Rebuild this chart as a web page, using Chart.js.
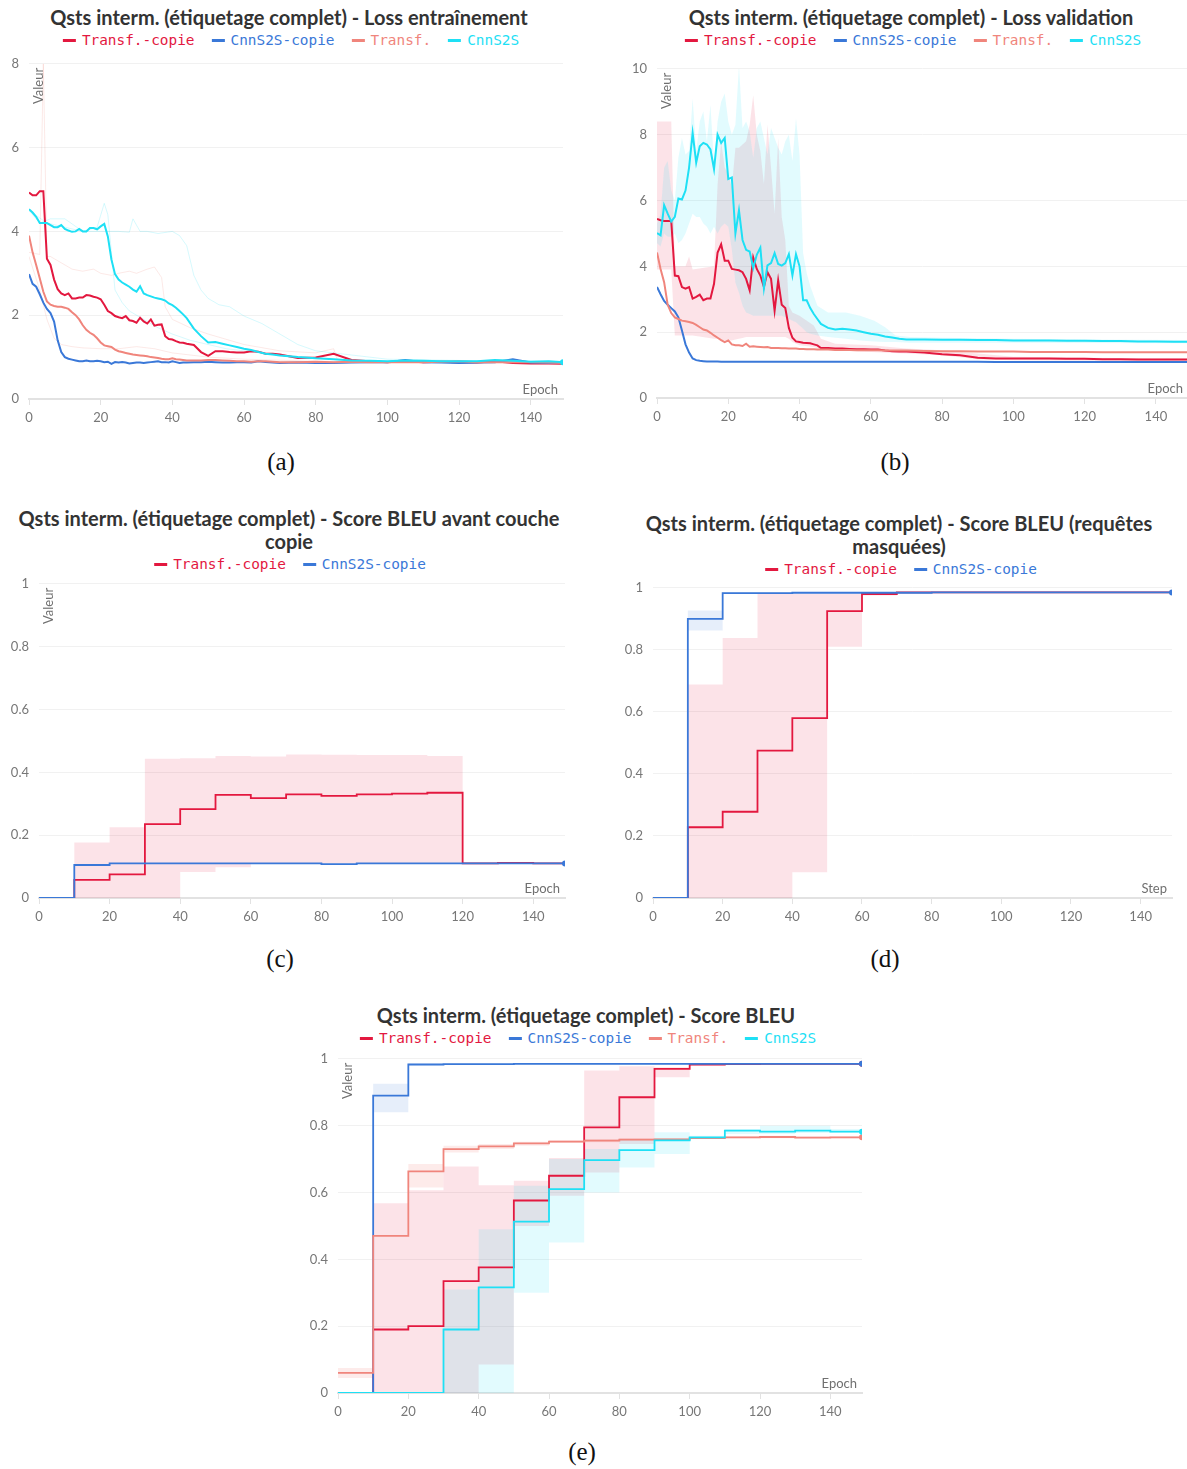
<!DOCTYPE html>
<html lang="fr">
<head>
<meta charset="utf-8">
<script src="https://cdn.jsdelivr.net/npm/chart.js@4.4.1/dist/chart.umd.min.js"></script>
<style>
  html, body { margin: 0; padding: 0; background: #fff; }
  body { position: relative; width: 1187px; height: 1469px; overflow: hidden; }
  canvas { position: absolute; }
  .titre {
    position: absolute; transform: translateX(-50%);
    font: bold 20px Lato, "Noto Sans", sans-serif; color: #333;
    text-align: center; white-space: nowrap; line-height: 23px;
  }
  .legende {
    position: absolute; transform: translateX(-50%); white-space: nowrap;
    font: 14.4px "DejaVu Sans Mono", monospace; line-height: 18px;
  }
  .legende .item + .item { margin-left: 17px; }
  .legende i { display: inline-block; width: 13px; height: 3px; vertical-align: middle; margin-right: 6px; position: relative; top: -1px; }
  .legende b { font-weight: normal; }
  .sous {
    position: absolute; transform: translate(-50%, -50%);
    font: 25px "Liberation Serif", "DejaVu Serif", serif; color: #111;
  }
</style>
</head>
<body>

<div class="titre" style="left:289px;top:6px">Qsts interm. (étiquetage complet) - Loss entraînement</div>
<div class="legende" id="legA" style="left:291px;top:31px"></div>
<div class="sous" style="left:281px;top:462px">(a)</div>

<div class="titre" style="left:911px;top:6px">Qsts interm. (étiquetage complet) - Loss validation</div>
<div class="legende" id="legB" style="left:913px;top:31px"></div>
<div class="sous" style="left:895px;top:462px">(b)</div>

<div class="titre" style="left:289px;top:507px">Qsts interm. (étiquetage complet) - Score BLEU avant couche<br>copie</div>
<div class="legende" id="legC" style="left:290px;top:555px"></div>
<div class="sous" style="left:280px;top:959px">(c)</div>

<div class="titre" style="left:899px;top:512px">Qsts interm. (étiquetage complet) - Score BLEU (requêtes<br>masquées)</div>
<div class="legende" id="legD" style="left:901px;top:560px"></div>
<div class="sous" style="left:885px;top:959px">(d)</div>

<div class="titre" style="left:586px;top:1004px">Qsts interm. (étiquetage complet) - Score BLEU</div>
<div class="legende" id="legE" style="left:588px;top:1029px"></div>
<div class="sous" style="left:582px;top:1452px">(e)</div>

<script>
// ---- séries ----
const nomsSeries = ['Transf.-copie', 'CnnS2S-copie', 'Transf.', 'CnnS2S'];
const couleurs = {
  'Transf.-copie': '#e3183f',
  'CnnS2S-copie': '#3a78d8',
  'Transf.': '#f0857c',
  'CnnS2S': '#1ee0f5'
};
const fonds = {
  'Transf.-copie': 'rgba(227, 24, 63, 0.12)',
  'CnnS2S-copie': 'rgba(58, 120, 216, 0.13)',
  'Transf.': 'rgba(240, 133, 124, 0.16)',
  'CnnS2S': 'rgba(30, 224, 245, 0.13)'
};
const ordreDessin = { 'Transf.-copie': 4, 'CnnS2S-copie': 3, 'Transf.': 2, 'CnnS2S': 1 };

// ---- (a) loss entraînement ----
const epochsA = [0,1,2,3,4,5,6,7,8,9,10,11,12,13,14,15,16,17,18,19,20,21,22,23,24,25,26,27,28,29,30,31,32,33,34,35,36,37,38,39,40,41,42,43,44,
  46,48,50,52,54,56,58,60,62,64,66,68,70, 75,80,85,90,95,100,105,110,115,120,125,130,135,140,145, 149];
const lossTrainTransfCopie = [4.93,4.86,4.86,4.96,4.96,3.35,3.2,2.85,2.62,2.52,2.48,2.52,2.4,2.4,2.42,2.42,2.48,2.47,2.44,2.42,2.38,2.25,2.1,2.05,1.98,1.95,1.93,1.98,1.88,1.86,1.82,1.94,1.85,1.8,1.9,1.75,1.77,1.78,1.5,1.43,1.42,1.38,1.35,1.34,1.32,
  1.29,1.12,1.03,1.14,1.14,1.12,1.11,1.11,1.14,1.13,1.08,1.08,1.06, 0.98,0.99,1.08,0.93,0.9,0.88,0.9,0.88,0.89,0.88,0.87,0.9,0.86,0.85,0.85, 0.84];
const lossTrainCnnCopie = [2.98,2.75,2.68,2.5,2.3,2.15,2.05,1.85,1.4,1.12,1.0,0.96,0.94,0.92,0.9,0.9,0.92,0.9,0.9,0.91,0.9,0.88,0.89,0.84,0.88,0.87,0.88,0.87,0.85,0.86,0.87,0.87,0.86,0.87,0.88,0.89,0.9,0.88,0.88,0.87,0.9,0.88,0.86,0.87,0.87,
  0.88,0.88,0.89,0.88,0.87,0.87,0.88,0.88,0.87,0.9,0.88,0.87,0.86, 0.87,0.86,0.86,0.87,0.88,0.88,0.93,0.88,0.87,0.86,0.87,0.88,0.95,0.87,0.86, 0.86];
const lossTrainTransf = [3.9,3.5,3.2,2.88,2.56,2.33,2.25,2.22,2.2,2.2,2.18,2.15,2.07,2.0,1.9,1.76,1.65,1.58,1.53,1.45,1.35,1.28,1.26,1.24,1.18,1.14,1.12,1.1,1.08,1.06,1.05,1.04,1.03,1.02,1.0,0.99,0.98,0.96,0.95,0.95,0.97,0.95,0.94,0.93,0.92,
  0.92,0.92,0.93,0.93,0.92,0.91,0.9,0.9,0.89,0.9,0.9,0.89,0.88, 0.88,0.89,0.88,0.89,0.88,0.88,0.88,0.88,0.89,0.9,0.88,0.88,0.88,0.88,0.87, 0.86];
const lossTrainCnn = [4.53,4.45,4.35,4.2,4.2,4.2,4.15,4.1,4.1,4.15,4.06,4.02,3.99,4.0,4.06,4.0,4.0,4.08,4.08,4.05,4.12,4.18,3.88,3.33,2.98,2.85,2.78,2.73,2.68,2.61,2.56,2.69,2.52,2.48,2.45,2.42,2.4,2.38,2.35,2.28,2.24,2.18,2.1,2.02,1.93,
  1.68,1.5,1.35,1.36,1.32,1.28,1.24,1.2,1.17,1.12,1.08,1.06,1.04, 1.0,0.97,0.95,0.92,0.91,0.9,0.92,0.91,0.9,0.9,0.9,0.93,0.91,0.89,0.9, 0.88];
// courbes individuelles (pâles)
const epochsRunCnn1 = [0,3,6,10,15,20,25,28,29,31,33,36,40,42,44,46,48,50,53,56,60,65,70,75,80,90,100,120,149];
const lossRunCnn1 = [4.5,4.2,4.3,4.3,4.0,4.0,4.0,3.98,4.3,4.0,4.0,3.95,4.0,3.9,3.66,2.95,2.6,2.4,2.25,2.2,1.98,1.8,1.55,1.3,1.15,1.05,0.95,0.92,0.9];
const epochsRunCnn2 = [0,5,10,15,19,21,22,23,24,26,28,32,36,40,45,50,55,60,70,80];
const lossRunCnn2 = [4.5,4.2,4.1,4.0,4.1,4.67,4.4,3.5,2.6,2.3,2.1,1.9,1.7,1.55,1.4,1.3,1.2,1.15,1.05,0.98];
const epochsRunTransf1 = [0,3,4,5,6,8,10,12,15,18,20,23,25,28,30,33,35,37,38,40,45,50,60,70,80,85,86,90,100,149];
const lossRunTransf1 = [3.5,3.45,8.0,3.4,3.4,3.3,3.2,3.1,3.05,3.1,3.0,2.95,3.0,3.05,3.0,3.1,3.15,2.9,2.2,1.9,1.7,1.55,1.3,1.15,1.1,1.2,0.95,0.92,0.9,0.88];
const epochsRunTransf2 = [0,3,5,7,9,12,15,20,25,30,35,40,50,60,80,100,149];
const lossRunTransf2 = [3.4,2.6,1.9,1.45,1.3,1.25,1.22,1.2,1.2,1.25,1.2,1.1,1.0,0.95,0.9,0.88,0.86];

// ---- (b) loss validation ----
const epochsB = [0,1,2,3,4,5,6,7,8,9,10,11,12,13,14,15,16,17,18,19,20,21,22,23,24,25,26,27,28,29,30,31,32,33,34,35,36,37,38,39,40,41,42,43,44,45,46,
  48,50,52,54,56,58,60,62,64,66,68,70, 75,80,85,90,95,100,105,110,115,120,125,130,135,140,145, 149];
const lossValTransfCopie = [5.44,5.4,5.38,5.38,5.38,3.72,3.7,3.37,3.32,3.37,3.02,3.07,3.14,2.97,3.02,3.02,3.47,4.42,4.67,4.17,4.17,3.92,3.9,3.88,3.82,3.62,3.27,4.27,3.92,3.72,3.37,3.82,3.62,2.65,3.57,2.83,2.73,2.13,1.83,1.72,1.7,1.68,1.67,1.66,1.63,1.6,1.52,
  1.52,1.5,1.5,1.49,1.48,1.48,1.47,1.47,1.44,1.42,1.41,1.41, 1.38,1.33,1.3,1.22,1.2,1.2,1.2,1.2,1.19,1.19,1.18,1.18,1.17,1.17,1.17, 1.17];
const lossValCnnCopie = [3.37,3.15,2.95,2.83,2.73,2.63,2.45,2.05,1.63,1.38,1.2,1.15,1.13,1.12,1.11,1.11,1.11,1.11,1.1,1.1,1.1,1.1,1.1,1.1,1.1,1.1,1.1,1.1,1.1,1.1,1.1,1.1,1.1,1.1,1.1,1.1,1.1,1.1,1.1,1.1,1.1,1.1,1.1,1.1,1.1,1.1,1.1,
  1.1,1.1,1.1,1.1,1.1,1.1,1.1,1.1,1.1,1.1,1.1,1.1, 1.1,1.1,1.1,1.1,1.09,1.09,1.09,1.09,1.09,1.09,1.09,1.09,1.09,1.09,1.09, 1.09];
const lossValTransf = [4.42,3.92,3.52,2.83,2.58,2.45,2.4,2.35,2.33,2.31,2.28,2.22,2.15,2.08,2.05,1.98,1.9,1.83,1.76,1.7,1.75,1.63,1.6,1.6,1.58,1.65,1.56,1.57,1.56,1.55,1.54,1.55,1.52,1.52,1.52,1.51,1.51,1.5,1.5,1.5,1.49,1.49,1.48,1.48,1.48,1.47,1.47,
  1.47,1.46,1.46,1.46,1.45,1.45,1.45,1.45,1.44,1.44,1.44,1.44, 1.43,1.42,1.42,1.41,1.41,1.41,1.4,1.4,1.4,1.4,1.39,1.39,1.39,1.39,1.39, 1.39];
const lossValCnn = [5.01,4.94,5.86,5.6,5.36,5.5,6.06,6.03,6.3,7.0,8.05,7.15,7.65,7.75,7.7,7.55,6.95,8.0,7.75,7.9,6.65,6.7,5.0,5.7,4.8,4.5,4.45,3.95,4.35,4.57,3.33,4.03,4.1,4.4,4.07,4.02,4.1,4.37,3.72,4.37,4.0,2.97,2.97,2.73,2.55,2.4,2.25,
  2.13,2.08,2.1,2.08,2.05,2.0,1.95,1.92,1.87,1.84,1.8,1.78, 1.78,1.77,1.77,1.76,1.76,1.75,1.75,1.75,1.74,1.74,1.73,1.73,1.72,1.72,1.71, 1.71];
// enveloppes min/max (b)
const epochsBandeTransfCopieB = [0,4,5,8,9,10,16,17,18,19,20,21,22,23,24,25,26,27,28,29,30,31,32,33,34,35,36,37,38,40,44,46,50,60,70,80,90,100,120,149];
const maxValTransfCopie = [8.4,8.4,4.0,4.0,4.3,3.9,4.0,6.5,7.8,7.0,6.8,6.4,7.6,7.6,7.7,7.8,8.3,9.2,8.0,7.5,6.5,8.3,7.0,5.6,7.9,5.5,4.8,2.8,2.6,2.5,2.2,1.8,1.65,1.6,1.5,1.45,1.35,1.25,1.22,1.2];
const minValTransfCopie = [3.9,3.9,1.9,1.9,1.9,1.9,1.8,1.8,1.78,1.75,1.75,1.75,1.78,1.8,1.82,1.85,1.85,1.85,1.85,1.85,1.85,1.85,1.85,1.85,1.85,1.85,1.85,1.8,1.7,1.6,1.55,1.48,1.45,1.4,1.35,1.3,1.18,1.15,1.13,1.12];
const epochsBandeCnnB = [0,1,2,3,4,5,6,7,8,9,10,11,12,13,14,15,16,17,18,19,20,21,22,23,24,25,26,27,28,29,30,31,32,33,34,35,36,37,38,39,40,41,42,43,
  45,48,53,57,61,64,67,71,80,100,120,149];
const maxValCnn = [5.3,5.6,7.0,7.2,6.3,6.0,7.3,7.9,7.4,7.5,9.1,7.5,8.4,8.7,7.8,8.9,7.1,8.4,9.0,9.25,8.4,8.0,8.3,10.1,8.2,8.4,8.1,7.3,8.2,8.4,7.9,7.4,8.2,7.9,7.6,7.4,7.8,8.0,7.2,8.5,7.4,4.4,3.8,3.4,
  2.8,2.6,2.6,2.5,2.35,2.15,1.9,1.85,1.83,1.8,1.78,1.76];
const minValCnn = [4.7,4.6,5.0,4.9,4.9,5.0,4.7,4.8,5.0,5.3,5.6,5.5,5.5,5.3,5.2,5.0,5.2,5.0,5.2,5.3,5.2,4.5,3.5,3.2,2.8,2.6,2.55,2.5,2.5,2.5,2.5,2.5,2.5,2.5,2.5,2.5,2.45,2.4,2.35,2.3,2.2,2.1,2.0,1.95,
  1.9,1.85,1.8,1.75,1.72,1.7,1.7,1.68,1.68,1.68,1.67,1.66];

// ---- BLEU (c), (d), (e) : une valeur par tranche de 10 epochs ----
const epochsBleu = [0,10,20,30,40,50,60,70,80,90,100,110,120,130,140,149];
// (c) avant couche copie
const bleuAvantTransfCopie = [0,0.058,0.075,0.235,0.283,0.328,0.318,0.33,0.325,0.33,0.332,0.335,0.11,0.112,0.11,0.11];
const bleuAvantCnnCopie = [0,0.105,0.11,0.11,0.11,0.11,0.11,0.11,0.108,0.11,0.11,0.11,0.11,0.11,0.11,0.11];
const bleuAvantTransfCopieMax = [0,0.177,0.225,0.443,0.445,0.452,0.45,0.457,0.456,0.455,0.455,0.452,0.11,0.112,0.11,0.11];
const bleuAvantTransfCopieMin = [0,0,0,0,0.083,0.098,0.11,0.11,0.11,0.11,0.11,0.11,0.11,0.11,0.11,0.11];
// (d) requêtes masquées
const bleuMasqTransfCopie = [0,0.228,0.278,0.475,0.58,0.925,0.98,0.985,0.985,0.985,0.985,0.985,0.985,0.985,0.985,0.985];
const bleuMasqCnnCopie = [0,0.9,0.983,0.983,0.984,0.984,0.984,0.984,0.985,0.985,0.985,0.985,0.985,0.985,0.985,0.985];
const bleuMasqTransfCopieMax = [0,0.688,0.838,0.98,0.98,0.98,0.986,0.987,0.987,0.987,0.987,0.987,0.987,0.987,0.987,0.987];
const bleuMasqTransfCopieMin = [0,0,0,0,0.083,0.81,0.975,0.983,0.983,0.983,0.983,0.983,0.983,0.983,0.983,0.983];
const bleuMasqCnnCopieMax = [0,0.927,0.986,0.986,0.986,0.986,0.986,0.986,0.986,0.986,0.986,0.986,0.986,0.986,0.986,0.986];
const bleuMasqCnnCopieMin = [0,0.862,0.98,0.981,0.982,0.982,0.982,0.983,0.983,0.983,0.983,0.983,0.983,0.983,0.983,0.983];
// (e) score BLEU
const bleuTransfCopie = [0,0.19,0.2,0.335,0.376,0.576,0.65,0.795,0.885,0.97,0.983,0.984,0.985,0.985,0.985,0.985];
const bleuCnnCopie = [0,0.89,0.983,0.984,0.984,0.985,0.985,0.985,0.985,0.985,0.985,0.985,0.985,0.985,0.985,0.985];
const bleuTransf = [0.06,0.47,0.663,0.73,0.738,0.747,0.752,0.755,0.758,0.759,0.763,0.765,0.766,0.764,0.765,0.765];
const bleuCnn = [0,0,0,0.19,0.316,0.513,0.61,0.697,0.727,0.756,0.765,0.785,0.782,0.785,0.782,0.782];
const bleuTransfCopieMax = [0,0.568,0.607,0.678,0.622,0.635,0.703,0.965,0.978,0.975,0.986,0.986,0.986,0.986,0.986,0.986];
const bleuTransfCopieMin = [0,0,0,0,0.085,0.5,0.59,0.66,0.745,0.945,0.98,0.983,0.983,0.983,0.983,0.983];
const bleuCnnCopieMax = [0,0.925,0.986,0.986,0.986,0.986,0.986,0.986,0.986,0.986,0.986,0.986,0.986,0.986,0.986,0.986];
const bleuCnnCopieMin = [0,0.84,0.981,0.982,0.982,0.983,0.983,0.983,0.983,0.983,0.983,0.983,0.983,0.983,0.983,0.983];
const bleuTransfMax = [0.075,0.47,0.685,0.74,0.745,0.752,0.757,0.76,0.762,0.763,0.766,0.768,0.77,0.768,0.768,0.768];
const bleuTransfMin = [0.045,0.47,0.615,0.72,0.73,0.74,0.748,0.75,0.755,0.756,0.76,0.762,0.762,0.762,0.762,0.762];
const bleuCnnMax = [0,0,0,0.31,0.49,0.62,0.7,0.73,0.76,0.78,0.77,0.79,0.8,0.8,0.79,0.785];
const bleuCnnMin = [0,0,0,0,0,0.3,0.45,0.6,0.675,0.715,0.76,0.775,0.775,0.778,0.778,0.778];

// Texte des axes dessiné dans la zone du graphique (Valeur / Epoch)
const etiquettesAxes = {
  id: 'etiquettesAxes',
  afterDatasetsDraw(chart, args, opts) {
    const { ctx, chartArea } = chart;
    ctx.save();
    ctx.font = '13px Lato, "Noto Sans", sans-serif';
    ctx.fillStyle = '#707070';
    ctx.textAlign = 'right';
    ctx.textBaseline = 'bottom';
    ctx.fillText(opts.x, chartArea.right - 5, chartArea.bottom - 3);
    if (opts.y) {
      ctx.translate(chartArea.left + 10, chartArea.top + 4);
      ctx.rotate(-Math.PI / 2);
      ctx.textBaseline = 'middle';
      ctx.fillText(opts.y, 0, 0);
    }
    ctx.restore();
  }
};

function points(epochs, valeurs) {
  return epochs.map((e, i) => ({ x: e, y: valeurs[i] }));
}

// palier horizontal jusqu'au point suivant, puis saut vertical
const PALIER = 'before';

function serie(nom, epochs, valeurs, opts = {}) {
  const n = valeurs.length;
  return {
    label: nom,
    data: points(epochs, valeurs),
    borderColor: couleurs[nom],
    backgroundColor: couleurs[nom],
    borderWidth: opts.epaisseur || 2,
    pointRadius: opts.pointFinal ? (c => c.dataIndex === n - 1 ? 3 : 0) : 0,
    pointBorderWidth: 0,
    stepped: opts.escalier ? PALIER : false,
    fill: false,
    order: ordreDessin[nom]
  };
}

function courbePale(nom, epochs, valeurs) {
  return {
    label: nom + ' (run)',
    data: points(epochs, valeurs),
    borderColor: couleurs[nom] + '2e',
    borderWidth: 1,
    pointRadius: 0,
    fill: false,
    order: 30
  };
}

function bande(nom, epochs, haut, bas, escalier) {
  const ordre = 10 + ordreDessin[nom];
  return [
    { label: nom + ' max', data: points(epochs, haut), borderWidth: 0, pointRadius: 0,
      backgroundColor: fonds[nom], fill: '+1', stepped: escalier ? PALIER : false, order: ordre },
    { label: nom + ' min', data: points(epochs, bas), borderWidth: 0, pointRadius: 0,
      fill: false, stepped: escalier ? PALIER : false, order: ordre }
  ];
}

function construireLegende(id, noms) {
  document.getElementById(id).innerHTML = noms.map(n =>
    `<span class="item"><i style="background:${couleurs[n]}"></i><b style="color:${couleurs[n]}">${n}</b></span>`
  ).join('');
}

function creerGraphique(zone, yMax, yPas, datasets, etiquetteX, etiquetteY) {
  const marge = { g: 42, h: 12, d: 12, b: 36 };
  const w = zone.droite - zone.gauche + marge.g + marge.d;
  const h = zone.bas - zone.haut + marge.h + marge.b;
  const canvas = document.createElement('canvas');
  canvas.width = w;
  canvas.height = h;
  canvas.style.width = w + 'px';
  canvas.style.height = h + 'px';
  canvas.style.left = (zone.gauche - marge.g) + 'px';
  canvas.style.top = (zone.haut - marge.h) + 'px';
  document.body.appendChild(canvas);

  const policeTicks = { family: 'Lato, "Noto Sans", sans-serif', size: 13 };
  return new Chart(canvas, {
    type: 'line',
    data: { datasets: datasets },
    options: {
      responsive: false,
      animation: false,
      devicePixelRatio: 1,
      layout: { padding: { left: 0, top: marge.h, right: marge.d, bottom: 0 } },
      elements: { line: { tension: 0 }, point: { radius: 0, hoverRadius: 0 } },
      plugins: {
        legend: { display: false },
        tooltip: { enabled: false },
        etiquettesAxes: { x: etiquetteX, y: etiquetteY }
      },
      scales: {
        x: {
          type: 'linear', min: 0, max: 149,
          afterFit: s => { s.height = marge.b; },
          ticks: { stepSize: 20, includeBounds: false, padding: 5, color: '#777', font: policeTicks, maxRotation: 0, autoSkip: false },
          grid: { drawOnChartArea: false, drawTicks: true, tickLength: 6, color: '#e2e2e2' },
          border: { display: true, color: '#e2e2e2', width: 2 }
        },
        y: {
          min: 0, max: yMax,
          afterFit: s => { s.width = marge.g; },
          ticks: {
            stepSize: yPas, padding: 10, color: '#777', font: policeTicks,
            callback: v => String(Number(v.toFixed(2)))
          },
          grid: { drawTicks: false, color: '#f1f1f1' },
          border: { display: false }
        }
      }
    },
    plugins: [etiquettesAxes]
  });
}

// ---- construction ----
construireLegende('legA', nomsSeries);
construireLegende('legB', nomsSeries);
construireLegende('legC', ['Transf.-copie', 'CnnS2S-copie']);
construireLegende('legD', ['Transf.-copie', 'CnnS2S-copie']);
construireLegende('legE', nomsSeries);

// (a)
creerGraphique({ gauche: 29, droite: 563, haut: 58, bas: 399 }, 8, 2, [
  serie('Transf.-copie', epochsA, lossTrainTransfCopie),
  serie('CnnS2S-copie', epochsA, lossTrainCnnCopie),
  serie('Transf.', epochsA, lossTrainTransf),
  serie('CnnS2S', epochsA, lossTrainCnn, { pointFinal: true }),
  courbePale('CnnS2S', epochsRunCnn1, lossRunCnn1),
  courbePale('CnnS2S', epochsRunCnn2, lossRunCnn2),
  courbePale('Transf.', epochsRunTransf1, lossRunTransf1),
  courbePale('Transf.', epochsRunTransf2, lossRunTransf2)
], 'Epoch', 'Valeur');

// (b)
creerGraphique({ gauche: 657, droite: 1188, haut: 63, bas: 398 }, 10, 2, [
  serie('Transf.-copie', epochsB, lossValTransfCopie),
  serie('CnnS2S-copie', epochsB, lossValCnnCopie),
  serie('Transf.', epochsB, lossValTransf),
  serie('CnnS2S', epochsB, lossValCnn),
  ...bande('Transf.-copie', epochsBandeTransfCopieB, maxValTransfCopie, minValTransfCopie, false),
  ...bande('CnnS2S', epochsBandeCnnB, maxValCnn, minValCnn, false)
], 'Epoch', 'Valeur');

// (c)
creerGraphique({ gauche: 39, droite: 565, haut: 578, bas: 898 }, 1, 0.2, [
  serie('Transf.-copie', epochsBleu, bleuAvantTransfCopie, { escalier: true, epaisseur: 1.8 }),
  serie('CnnS2S-copie', epochsBleu, bleuAvantCnnCopie, { escalier: true, epaisseur: 1.8, pointFinal: true }),
  ...bande('Transf.-copie', epochsBleu, bleuAvantTransfCopieMax, bleuAvantTransfCopieMin, true)
], 'Epoch', 'Valeur');

// (d)
creerGraphique({ gauche: 653, droite: 1172, haut: 582, bas: 898 }, 1, 0.2, [
  serie('Transf.-copie', epochsBleu, bleuMasqTransfCopie, { escalier: true, epaisseur: 1.8 }),
  serie('CnnS2S-copie', epochsBleu, bleuMasqCnnCopie, { escalier: true, epaisseur: 1.8, pointFinal: true }),
  ...bande('Transf.-copie', epochsBleu, bleuMasqTransfCopieMax, bleuMasqTransfCopieMin, true),
  ...bande('CnnS2S-copie', epochsBleu, bleuMasqCnnCopieMax, bleuMasqCnnCopieMin, true)
], 'Step', null);

// (e)
creerGraphique({ gauche: 338, droite: 862, haut: 1053, bas: 1393 }, 1, 0.2, [
  serie('Transf.-copie', epochsBleu, bleuTransfCopie, { escalier: true, epaisseur: 1.8, pointFinal: true }),
  serie('CnnS2S-copie', epochsBleu, bleuCnnCopie, { escalier: true, epaisseur: 1.8, pointFinal: true }),
  serie('Transf.', epochsBleu, bleuTransf, { escalier: true, epaisseur: 1.8, pointFinal: true }),
  serie('CnnS2S', epochsBleu, bleuCnn, { escalier: true, epaisseur: 1.8, pointFinal: true }),
  ...bande('Transf.-copie', epochsBleu, bleuTransfCopieMax, bleuTransfCopieMin, true),
  ...bande('CnnS2S-copie', epochsBleu, bleuCnnCopieMax, bleuCnnCopieMin, true),
  ...bande('Transf.', epochsBleu, bleuTransfMax, bleuTransfMin, true),
  ...bande('CnnS2S', epochsBleu, bleuCnnMax, bleuCnnMin, true)
], 'Epoch', 'Valeur');
</script>
</body>
</html>
